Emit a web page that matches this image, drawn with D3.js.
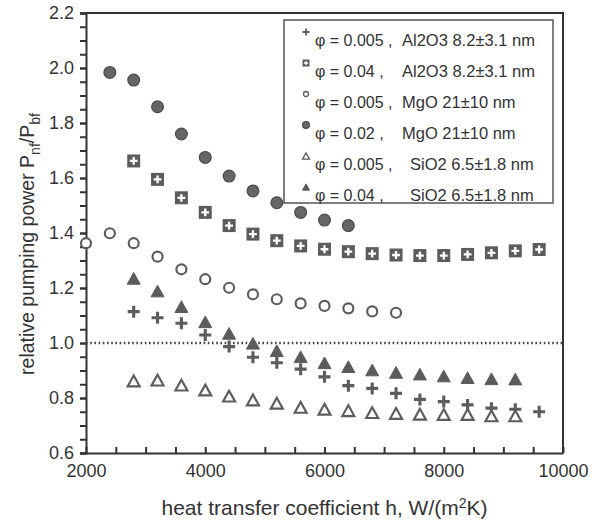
<!DOCTYPE html>
<html>
<head>
<meta charset="utf-8">
<script src="https://cdn.jsdelivr.net/npm/d3@7"></script>
<style>
  body { margin: 0; background: #fff; }
  text { font-family: "Liberation Sans", Arial, sans-serif; fill: #333; }
</style>
</head>
<body>
<div id="chart"></div>
<script>
// heat transfer coefficient h for each series
var hAl005 = [2800, 3200, 3600, 4000, 4400, 4800, 5200, 5600, 6000, 6400, 6800, 7200, 7600, 8000, 8400, 8800, 9200, 9600];
var pAl005 = [1.114, 1.092, 1.072, 1.029, 0.987, 0.948, 0.928, 0.905, 0.877, 0.845, 0.835, 0.817, 0.795, 0.787, 0.775, 0.763, 0.759, 0.750];

var hAl04 = [2800, 3200, 3600, 4000, 4400, 4800, 5200, 5600, 6000, 6400, 6800, 7200, 7600, 8000, 8400, 8800, 9200, 9600];
var pAl04 = [1.662, 1.595, 1.528, 1.475, 1.427, 1.396, 1.372, 1.353, 1.341, 1.332, 1.325, 1.320, 1.318, 1.318, 1.322, 1.328, 1.335, 1.340];

var hMg005 = [2000, 2400, 2800, 3200, 3600, 4000, 4400, 4800, 5200, 5600, 6000, 6400, 6800, 7200];
var pMg005 = [1.363, 1.399, 1.363, 1.314, 1.268, 1.232, 1.201, 1.177, 1.159, 1.144, 1.135, 1.126, 1.115, 1.110];

var hMg02 = [2400, 2800, 3200, 3600, 4000, 4400, 4800, 5200, 5600, 6000, 6400];
var pMg02 = [1.984, 1.956, 1.859, 1.760, 1.675, 1.607, 1.553, 1.510, 1.475, 1.447, 1.427];

var hSi005 = [2800, 3200, 3600, 4000, 4400, 4800, 5200, 5600, 6000, 6400, 6800, 7200, 7600, 8000, 8400, 8800, 9200];
var pSi005 = [0.862, 0.865, 0.847, 0.829, 0.807, 0.793, 0.781, 0.766, 0.759, 0.754, 0.747, 0.744, 0.741, 0.740, 0.740, 0.735, 0.735];

var hSi04 = [2800, 3200, 3600, 4000, 4400, 4800, 5200, 5600, 6000, 6400, 6800, 7200, 7600, 8000, 8400, 8800, 9200];
var pSi04 = [1.235, 1.189, 1.132, 1.077, 1.035, 0.999, 0.972, 0.950, 0.928, 0.914, 0.902, 0.893, 0.887, 0.880, 0.874, 0.870, 0.869];

var legendPhi = ["\u03c6 = 0.005 ,", "\u03c6 = 0.04 ,", "\u03c6 = 0.005 ,", "\u03c6 = 0.02 ,", "\u03c6 = 0.005 ,", "\u03c6 = 0.04 ,"];
var legendName = ["Al2O3 8.2\u00b13.1 nm", "Al2O3 8.2\u00b13.1 nm", "MgO 21\u00b110 nm", "MgO 21\u00b110 nm", "SiO2 6.5\u00b11.8 nm", "SiO2 6.5\u00b11.8 nm"];
var markerKinds = ["plus", "crossSquare", "circleOpen", "circleFilled", "triOpen", "triFilled"];

var xTicks = [2000, 4000, 6000, 8000, 10000];
var yTicks = [0.6, 0.8, 1.0, 1.2, 1.4, 1.6, 1.8, 2.0, 2.2];

var width = 593, height = 523;
var margin = {top: 13, right: 30, bottom: 70, left: 86};
var chartW = width - margin.left - margin.right,
    chartH = height - margin.top - margin.bottom;
var dark = "#333", grey = "#5c5c5c";

var svg = d3.select("#chart").append("svg")
    .attr("width", width)
    .attr("height", height);

var g = svg.append("g")
    .attr("transform", "translate(" + margin.left + "," + margin.top + ")");

var x = d3.scaleLinear().domain([2000, 10000]).range([0, chartW]);
var y = d3.scaleLinear().domain([0.6, 2.2]).range([chartH, 0]);

// minor ticks
g.append("g")
    .attr("transform", "translate(0," + chartH + ")")
    .call(d3.axisBottom(x).tickValues(d3.range(2000, 10001, 500)).tickSize(-6).tickFormat(""))
    .call(function(a) { a.select(".domain").remove(); });
g.append("g")
    .call(d3.axisLeft(y).tickValues(d3.range(0.6, 2.2001, 0.05)).tickSize(6).tickFormat(""))
    .call(function(a) { a.select(".domain").remove(); });

// major axes
var xAxis = g.append("g")
    .attr("transform", "translate(0," + chartH + ")")
    .call(d3.axisBottom(x).tickValues(xTicks).tickSize(0).tickPadding(11).tickFormat(d3.format("d")));
var yAxis = g.append("g")
    .call(d3.axisLeft(y).tickValues(yTicks).tickSize(6).tickPadding(6).tickFormat(d3.format(".1f")));

g.selectAll(".tick line").attr("stroke", dark).attr("stroke-width", 2);
[xAxis, yAxis].forEach(function(a) {
    a.select(".domain").attr("stroke", dark).attr("stroke-width", 2);
    a.selectAll(".tick text").style("font-size", "18px").attr("fill", "#333")
        .style("font-family", "\"Liberation Sans\", Arial, sans-serif");
});

// frame top and right
g.append("path")
    .attr("d", "M0,0H" + chartW + "V" + chartH)
    .attr("fill", "none")
    .attr("stroke", dark)
    .attr("stroke-width", 2);

// reference line at 1.0
g.append("line")
    .attr("x1", 0).attr("x2", chartW)
    .attr("y1", y(1)).attr("y2", y(1))
    .attr("stroke", "#444")
    .attr("stroke-width", 2.5)
    .attr("stroke-dasharray", "1.6,2.6");

// axis titles
svg.append("text")
    .attr("x", margin.left + chartW / 2)
    .attr("y", 515)
    .attr("text-anchor", "middle")
    .style("font-size", "21px")
    .html("heat transfer coefficient h, W/(m<tspan dy='-7' style='font-size:14px'>2</tspan><tspan dy='7'>K)</tspan>");

svg.append("text")
    .attr("transform", "translate(34,244) rotate(-90)")
    .attr("text-anchor", "middle")
    .style("font-size", "19.5px")
    .html("relative pumping power P<tspan dy='6' style='font-size:14px'>nf</tspan><tspan dy='-6'>/P</tspan><tspan dy='6' style='font-size:14px'>bf</tspan>");

// marker painter
function drawMarker(sel, kind, s) {
    var r = s / 2;
    if (kind === "plus") {
        sel.append("path")
            .attr("d", "M" + (-r) + ",0H" + r + "M0," + (-r) + "V" + r)
            .attr("stroke", grey).attr("stroke-width", s * 0.26).attr("fill", "none");
    } else if (kind === "crossSquare") {
        sel.append("rect")
            .attr("x", -r).attr("y", -r).attr("width", s).attr("height", s)
            .attr("fill", grey);
        var a = s * 0.3;
        sel.append("path")
            .attr("d", "M" + (-a) + ",0H" + a + "M0," + (-a) + "V" + a)
            .attr("stroke", "#fff").attr("stroke-width", s * 0.18);
    } else if (kind === "circleOpen") {
        sel.append("circle").attr("r", r - 1)
            .attr("fill", "#fff").attr("stroke", grey).attr("stroke-width", s * 0.18);
    } else if (kind === "circleFilled") {
        sel.append("circle").attr("r", r - 0.6)
            .attr("fill", "#666").attr("stroke", "#4a4a4a").attr("stroke-width", 1.2);
    } else {
        var h = s * 0.9;
        var tri = "M0," + (-h / 2) + "L" + r + "," + (h / 2) + "L" + (-r) + "," + (h / 2) + "Z";
        if (kind === "triOpen") {
            sel.append("path").attr("d", tri)
                .attr("fill", "#fff").attr("stroke", grey).attr("stroke-width", s * 0.18);
        } else {
            sel.append("path").attr("d", tri)
                .attr("fill", grey).attr("stroke", grey).attr("stroke-width", 1);
        }
    }
}

// legend box
var legend = g.append("g").attr("class", "legend");
legend.append("rect")
    .attr("x", 284 - margin.left).attr("y", 20 - margin.top)
    .attr("width", 553 - 284).attr("height", 203 - 20)
    .attr("fill", "#fff")
    .attr("stroke", "#555")
    .attr("stroke-width", 1.5);

var legendSize = [7, 7, 7, 8, 7, 7];
var nameX = [402, 402, 402, 402, 410, 410];
legendPhi.forEach(function(phi, i) {
    var cy = 40 + i * 31 - margin.top;
    var row = legend.append("g");
    var m = row.append("g").attr("transform", "translate(" + (306 - margin.left) + "," + (cy - 8) + ")");
    drawMarker(m, markerKinds[i], legendSize[i]);
    row.append("text")
        .attr("x", 315 - margin.left)
        .attr("y", cy + 6)
        .style("font-size", "16px")
        .text(phi);
    row.append("text")
        .attr("x", nameX[i] - margin.left)
        .attr("y", cy + 6)
        .style("font-size", "16.5px")
        .text(legendName[i]);
});

// points
var series = [
    {h: hAl005, p: pAl005, kind: "plus", size: 12},
    {h: hAl04, p: pAl04, kind: "crossSquare", size: 13},
    {h: hMg005, p: pMg005, kind: "circleOpen", size: 12},
    {h: hMg02, p: pMg02, kind: "circleFilled", size: 13},
    {h: hSi005, p: pSi005, kind: "triOpen", size: 12},
    {h: hSi04, p: pSi04, kind: "triFilled", size: 13}
];

series.forEach(function(s) {
    var pts = g.append("g").selectAll("g")
        .data(s.h.map(function(h, i) { return [h, s.p[i]]; }))
        .enter().append("g")
        .attr("transform", function(d) { return "translate(" + x(d[0]) + "," + y(d[1]) + ")"; });
    pts.each(function() { drawMarker(d3.select(this), s.kind, s.size); });
});
</script>
</body>
</html>
